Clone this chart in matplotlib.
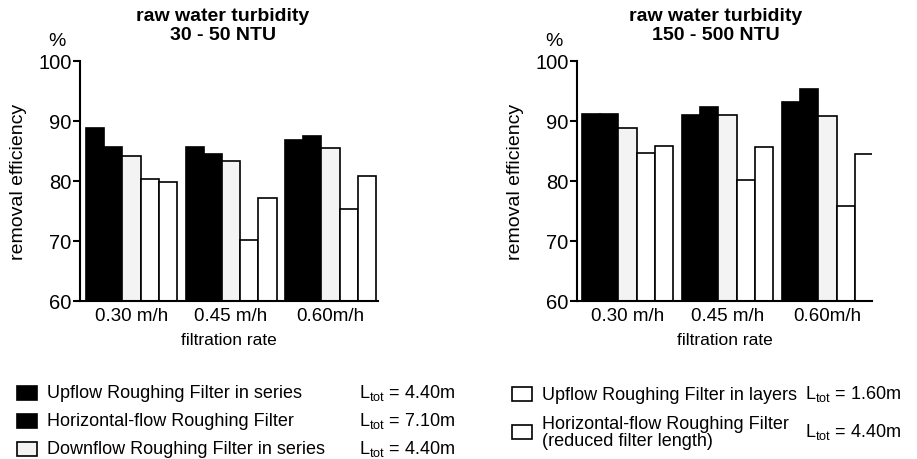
import numpy as np
import matplotlib.pyplot as plt
from matplotlib.patches import Rectangle

plt.rcParams['font.family'] = ['Liberation Sans', 'DejaVu Sans']
plt.rcParams['mathtext.fontset'] = 'custom'
plt.rcParams['mathtext.rm'] = 'Liberation Sans'

# filtration rates on the x axis
rates = ['0.30 m/h', '0.45 m/h', '0.60m/h']
y_ticks = [60, 70, 80, 90, 100]

# removal efficiency (%) at raw water turbidity 30 - 50 NTU
urf_series_low = [88.9, 85.6, 86.8]
hrf_low = [85.7, 84.5, 87.5]
drf_series_low = [84.2, 83.3, 85.5]
urf_layers_low = [80.3, 70.2, 75.3]
hrf_reduced_low = [79.9, 77.2, 80.8]

# removal efficiency (%) at raw water turbidity 150 - 500 NTU
urf_series_high = [91.1, 91.0, 93.2]
hrf_high = [91.1, 92.3, 95.3]
drf_series_high = [88.9, 91.0, 90.9]
urf_layers_high = [84.7, 80.1, 75.8]
hrf_reduced_high = [85.8, 85.6, 84.5]

filter_names = ['Upflow Roughing Filter in series',
                'Horizontal-flow Roughing Filter',
                'Downflow Roughing Filter in series',
                'Upflow Roughing Filter in layers',
                'Horizontal-flow Roughing Filter\n(reduced filter length)']
filter_lengths = ['4.40m', '7.10m', '4.40m', '1.60m', '4.40m']
fills = ['black', 'black', '#f3f3f3', 'white', 'white']

W, H = 917, 460
fig = plt.figure(figsize=(W / 100, H / 100), dpi=100)


def fx(x):
    return x / W


def fy(y):
    return 1 - y / H


def draw_panel(rect, series, xlim, title, title_x):
    ax = fig.add_axes(rect)
    x = np.arange(len(rates))
    w = 0.183
    for i, vals in enumerate(series):
        ax.bar(x + (i - 2) * w, vals, w, color=fills[i], edgecolor='black',
               linewidth=1.2)
    ax.set_ylim(60, 100)
    ax.set_xlim(*xlim)
    ax.set_yticks(y_ticks)
    ax.set_xticks(x)
    ax.set_xticklabels(rates, fontsize=13.5)
    ax.tick_params(axis='x', length=0, pad=4)
    ax.tick_params(axis='y', length=5, width=1.5, labelsize=14.5, pad=1)
    for s in ['top', 'right']:
        ax.spines[s].set_visible(False)
    for s in ['left', 'bottom']:
        ax.spines[s].set_linewidth(1.5)
    ax.set_xlabel('filtration rate', fontsize=12.5, labelpad=6)
    ax.set_ylabel('removal efficiency', fontsize=14, labelpad=8)
    fig.text(title_x, fy(26), title, ha='center', va='center',
             fontsize=14, fontweight='bold', linespacing=1.15)
    pos = ax.get_position()
    fig.text(pos.x0 - fx(32), fy(41), '%', ha='left', va='center',
             fontsize=14)
    return ax


draw_panel([fx(80), fy(302), fx(298), 240 / H],
           [urf_series_low, hrf_low, drf_series_low, urf_layers_low,
            hrf_reduced_low],
           (-0.518, 2.477), 'raw water turbidity\n30 - 50 NTU', fx(223))
draw_panel([fx(577), fy(302), fx(295), 240 / H],
           [urf_series_high, hrf_high, drf_series_high, urf_layers_high,
            hrf_reduced_high],
           (-0.504, 2.446), 'raw water turbidity\n150 - 500 NTU', fx(716))

# legend, drawn by hand in two columns
legend_pos = [(17, 394), (17, 422), (17, 450), (512, 395), (512, 433)]
length_x = [359, 359, 359, 805, 805]
for i, name in enumerate(filter_names):
    sx, sy = legend_pos[i]
    fig.add_artist(Rectangle((fx(sx), fy(sy + 7)), fx(20), 14 / H,
                             facecolor=fills[i], edgecolor='black',
                             linewidth=1.2, transform=fig.transFigure))
    fig.text(fx(sx + 30), fy(sy), name, ha='left', va='center',
             fontsize=13, linespacing=0.95)
    fig.text(fx(length_x[i]), fy(sy - 1), r'L$_{\rm tot}$ = ' + filter_lengths[i],
             ha='left', va='center', fontsize=13)

fig.savefig('out.png', dpi=100)
